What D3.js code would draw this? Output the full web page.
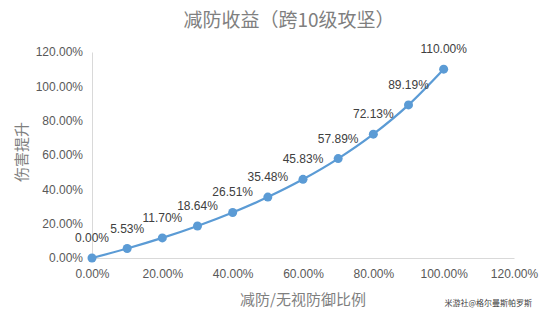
<!DOCTYPE html>
<html>
<head>
<meta charset="utf-8">
<script src="https://cdn.jsdelivr.net/npm/d3@7"></script>
<style>
  body { margin: 0; background: #fff; }
  svg { display: block; font-family: "Liberation Sans", "Noto Sans CJK SC", sans-serif; }
  .cjk { font-family: "Noto Sans CJK SC", sans-serif; }
</style>
</head>
<body>
<div id="chart"></div>
<script>
// Chart data
const ratios = [0, 0.1, 0.2, 0.3, 0.4, 0.5, 0.6, 0.7, 0.8, 0.9, 1.0];
const gains = [0, 0.0553, 0.117, 0.1864, 0.2651, 0.3548, 0.4583, 0.5789, 0.7213, 0.8919, 1.10];
const xTicks = [0, 0.2, 0.4, 0.6, 0.8, 1.0, 1.2];
const yTicks = [0, 0.2, 0.4, 0.6, 0.8, 1.0, 1.2];
const title = "减防收益（跨10级攻坚）";
const xTitle = "减防/无视防御比例";
const yTitle = "伤害提升";
const credit = "米游社@格尔曼斯帕罗斯";

const W = 540, H = 314;
const margin = { top: 52, right: 26, bottom: 56, left: 92 };
const width = W - margin.left - margin.right;
const height = H - margin.top - margin.bottom;

const svg = d3.select('#chart')
    .append('svg')
    .attr('width', W)
    .attr('height', H);

const g = svg.append('g')
    .attr('transform', `translate(${margin.left},${margin.top})`);

// Scales
const x = d3.scaleLinear().domain([0, 1.2]).range([0, width]);
const y = d3.scaleLinear().domain([0, 1.2]).range([height, 0]);
const pct = d3.format('.2%');

// X axis
const xAxis = g.append('g')
    .attr('transform', `translate(0,${height})`)
    .call(d3.axisBottom(x).tickValues(xTicks).tickFormat(pct).tickSize(0).tickPadding(11));
xAxis.select('.domain').attr('stroke', '#d9d9d9').attr('stroke-width', 1);
xAxis.selectAll('text').attr('fill', '#595959').style('font-size', '12px');

// Y axis
const yAxis = g.append('g')
    .call(d3.axisLeft(y).tickValues(yTicks).tickFormat(pct).tickSize(0).tickPadding(9));
yAxis.select('.domain').attr('stroke', '#d9d9d9').attr('stroke-width', 1);
yAxis.selectAll('text').attr('fill', '#595959').style('font-size', '12px');

const points = ratios.map((r, i) => ({ r, v: gains[i] }));

// Line
g.append('path')
    .datum(points)
    .attr('fill', 'none')
    .attr('stroke', '#5b9bd5')
    .attr('stroke-width', 2.25)
    .attr('d', d3.line().x(d => x(d.r)).y(d => y(d.v)).curve(d3.curveMonotoneX));

// Markers
g.selectAll('.dot')
    .data(points)
    .enter()
    .append('circle')
    .attr('cx', d => x(d.r))
    .attr('cy', d => y(d.v))
    .attr('r', 4.5)
    .attr('fill', '#5b9bd5');

// Data labels
g.selectAll('.label')
    .data(points)
    .enter()
    .append('text')
    .attr('x', d => x(d.r))
    .attr('y', d => y(d.v) - 16)
    .attr('text-anchor', 'middle')
    .attr('fill', '#404040')
    .style('font-size', '12px')
    .text(d => pct(d.v));

// Title
svg.append('text')
    .attr('class', 'cjk')
    .attr('x', 289)
    .attr('y', 27)
    .attr('text-anchor', 'middle')
    .attr('fill', '#7f7f7f')
    .style('font-size', '19px')
    .text(title);

// Axis titles
svg.append('text')
    .attr('class', 'cjk')
    .attr('x', 303)
    .attr('y', 305)
    .attr('text-anchor', 'middle')
    .attr('fill', '#7f7f7f')
    .style('font-size', '15px')
    .text(xTitle);

svg.append('text')
    .attr('class', 'cjk')
    .attr('transform', 'translate(27,152) rotate(-90)')
    .attr('text-anchor', 'middle')
    .attr('fill', '#7f7f7f')
    .style('font-size', '15px')
    .text(yTitle);

// Watermark
svg.append('text')
    .attr('class', 'cjk')
    .attr('x', 532)
    .attr('y', 306)
    .attr('text-anchor', 'end')
    .attr('fill', '#404040')
    .style('font-size', '8px')
    .text(credit);
</script>
</body>
</html>
